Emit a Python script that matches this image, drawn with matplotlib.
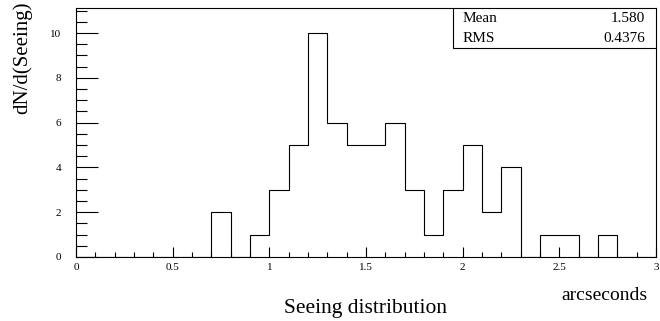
import matplotlib

matplotlib.use("Agg")
import matplotlib.pyplot as plt
import numpy as np
from matplotlib.patches import Rectangle
from matplotlib.ticker import FuncFormatter, MultipleLocator

plt.rcParams["font.family"] = ["Liberation Serif", "DejaVu Serif"]

# histogram of seeing values, 0.1 arcsec bins from 0 to 3
bin_low = 0.0
bin_width = 0.1
counts = [0, 0, 0, 0, 0, 0, 0, 2, 0, 1,
          3, 5, 10, 6, 5, 5, 6, 3, 1, 3,
          5, 2, 4, 0, 1, 1, 0, 1, 0, 0]
stat_names = ["Mean", "RMS"]
stat_values = ["1.580", "0.4376"]

W, H = 660, 321
fig = plt.figure(figsize=(W / 100, H / 100), dpi=100)
ax = fig.add_axes([76 / W, 1 - 257 / H, 580 / W, 249 / H])

edges = bin_low + bin_width * np.arange(len(counts) + 1)
ax.stairs(counts, edges, color="black", linewidth=0.8, baseline=0)

ax.set_xlim(0, 3)
ax.set_ylim(0, 11.12)
for side in ax.spines.values():
    side.set_linewidth(0.8)

fmt = FuncFormatter(lambda v, _: "%g" % v)
ax.xaxis.set_major_locator(MultipleLocator(0.5))
ax.xaxis.set_minor_locator(MultipleLocator(0.1))
ax.yaxis.set_major_locator(MultipleLocator(2))
ax.yaxis.set_minor_locator(MultipleLocator(0.5))
ax.xaxis.set_major_formatter(fmt)
ax.yaxis.set_major_formatter(fmt)
ax.tick_params(which="both", direction="in", labelsize=8, width=0.8)
ax.tick_params(axis="x", which="major", length=7.2, pad=4.5)
ax.tick_params(axis="x", which="minor", length=3.6)
ax.tick_params(axis="y", which="major", length=15.8, pad=10.5)
ax.tick_params(axis="y", which="minor", length=7.9)

# stats box
box_left = (453 - 76) / 580
box_bottom = (257 - 48) / 249
ax.add_patch(Rectangle((box_left, box_bottom), 1 - box_left, 1 - box_bottom,
                       transform=ax.transAxes, facecolor="white",
                       edgecolor="black", linewidth=0.8, zorder=5))
for i, (name, val) in enumerate(zip(stat_names, stat_values)):
    ypix = 18 + i * 20
    yy = (257 - ypix) / 249
    ax.text((463 - 76) / 580, yy, name, transform=ax.transAxes,
            fontsize=11, va="center", ha="left", zorder=6)
    ax.text((645 - 76) / 580, yy, val, transform=ax.transAxes,
            fontsize=11, va="center", ha="right", zorder=6)

fig.text(22 / W, 1 - 2 / H, "dN/d(Seeing)", rotation=90,
         ha="center", va="top", fontsize=15)
fig.text(366 / W, 8 / H, "Seeing distribution", ha="center",
         va="baseline", fontsize=15.5)
fig.text(647 / W, 21 / H, "arcseconds", ha="right", va="baseline",
         fontsize=14)

fig.savefig("out.png", dpi=100)
plt.close(fig)
